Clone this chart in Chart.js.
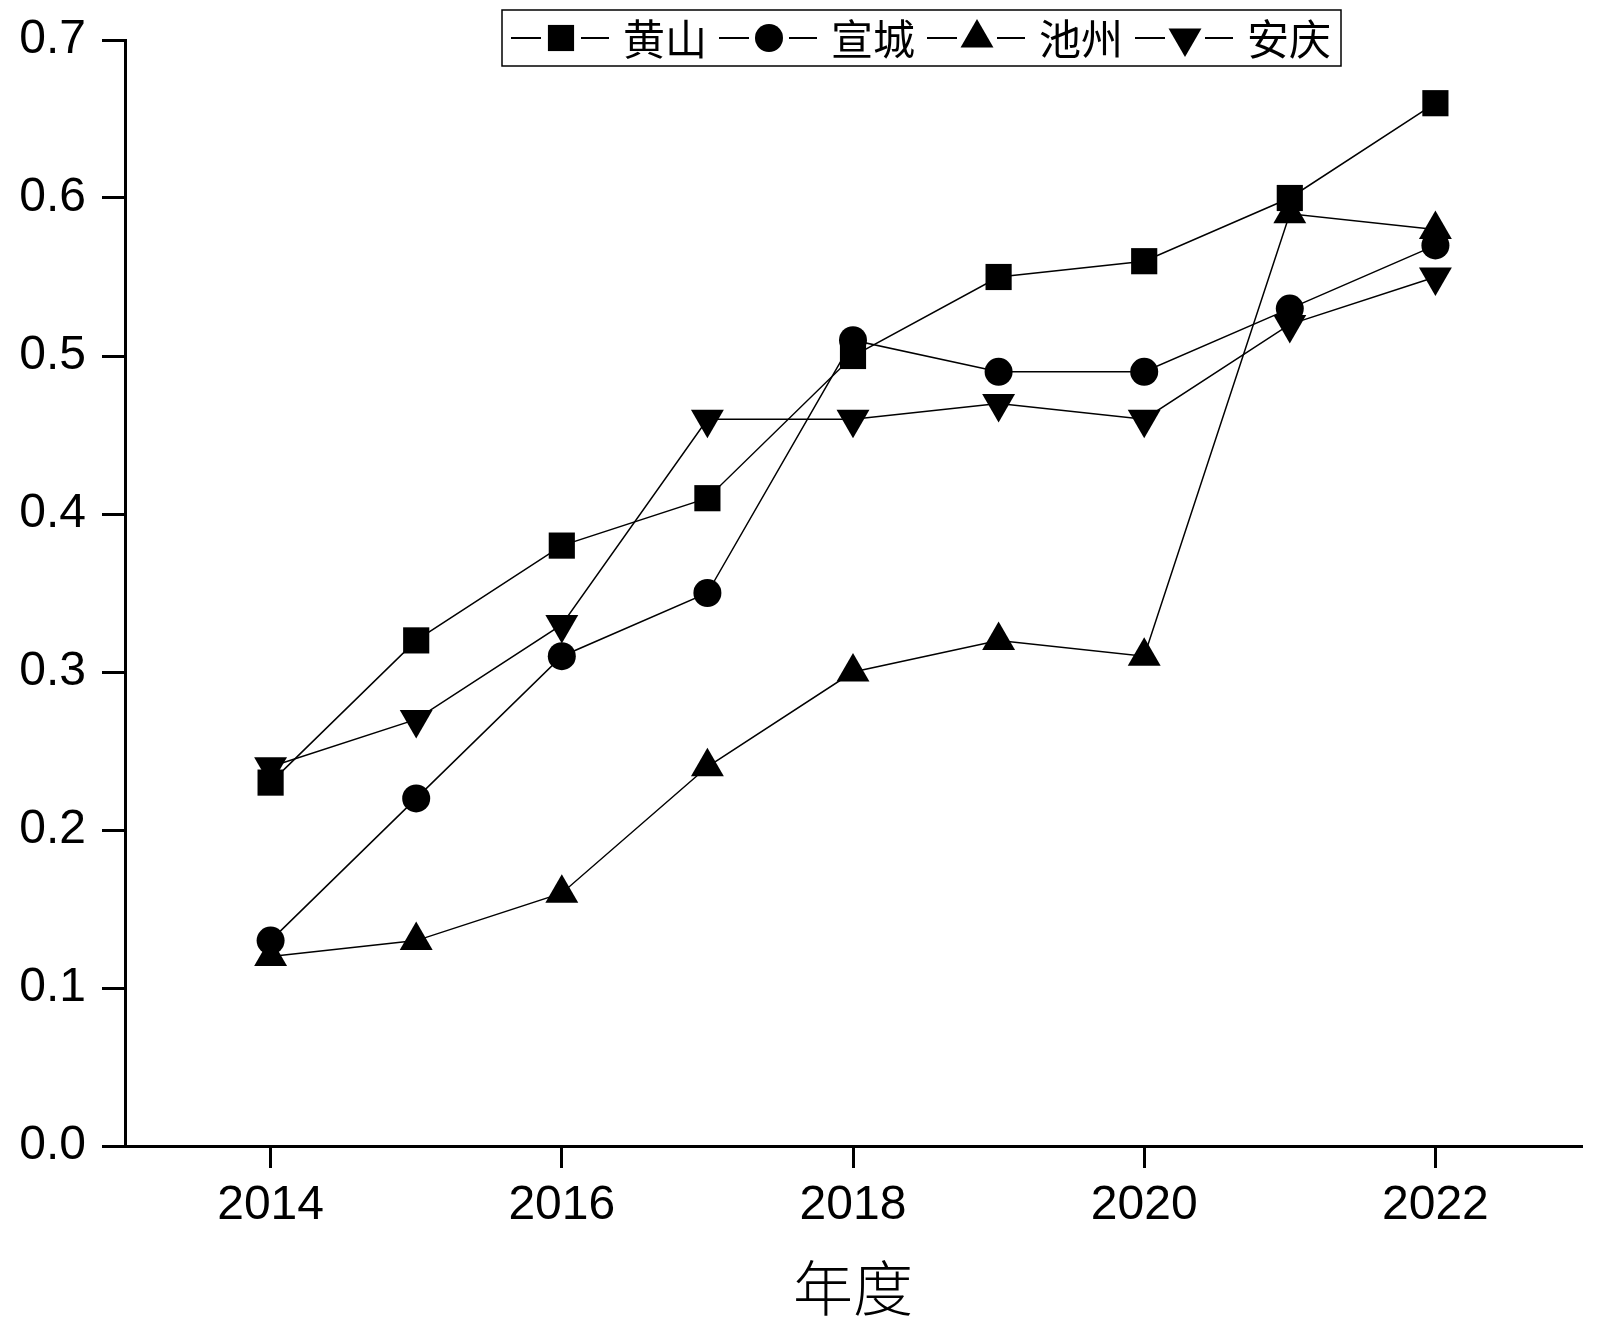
<!DOCTYPE html>
<html>
<head>
<meta charset="utf-8">
<script src="https://cdn.jsdelivr.net/npm/chart.js@4/dist/chart.umd.min.js"></script>
<style>
  body { margin: 0; background: #fff; }
  #wrap { width: 1600px; height: 1323px; }
</style>
</head>
<body>
<div id="wrap"><canvas id="lineChart"></canvas></div>
<script>
var years = [2014, 2015, 2016, 2017, 2018, 2019, 2020, 2021, 2022];
var xTicks = [2014, 2016, 2018, 2020, 2022];
var huangshan = [0.23, 0.32, 0.38, 0.41, 0.50, 0.55, 0.56, 0.60, 0.66];
var xuancheng = [0.13, 0.22, 0.31, 0.35, 0.51, 0.49, 0.49, 0.53, 0.57];
var chizhou   = [0.12, 0.13, 0.16, 0.24, 0.30, 0.32, 0.31, 0.59, 0.58];
var anqing    = [0.24, 0.27, 0.33, 0.46, 0.46, 0.47, 0.46, 0.52, 0.55];

function toPoints(vals){
    return vals.map(function(v, i){ return {x: years[i], y: v}; });
}

function makeSet(label, vals, style, radius, rot){
    return {
        label: label,
        data: toPoints(vals),
        borderColor: '#000',
        backgroundColor: '#000',
        borderWidth: 1.5,
        pointStyle: style,
        pointRadius: radius,
        pointHoverRadius: radius,
        pointRotation: rot,
        pointBorderWidth: 0,
        pointBackgroundColor: '#000',
        tension: 0,
        clip: false
    };
}

// legend drawn like the original: —■— 黄山 —●— 宣城 ...
var boxLegend = {
    id: 'boxLegend',
    afterDraw: function(chart){
        var ctx = chart.ctx;
        var left = 502, top = 10, right = 1341, bottom = 66;
        var cy = (top + bottom) / 2;
        ctx.save();
        ctx.strokeStyle = '#000';
        ctx.lineWidth = 1.5;
        ctx.strokeRect(left, top, right - left, bottom - top);
        chart.data.datasets.forEach(function(ds, i){
            var mx = left + 59 + i * 208;
            ctx.strokeStyle = '#000';
            ctx.lineWidth = 2;
            ctx.beginPath();
            ctx.moveTo(mx - 50, cy); ctx.lineTo(mx - 20, cy);
            ctx.moveTo(mx + 20, cy); ctx.lineTo(mx + 48, cy);
            ctx.stroke();
            Chart.helpers.drawPoint(ctx, {
                pointStyle: ds.pointStyle,
                radius: ds.pointRadius,
                rotation: ds.pointRotation,
                borderWidth: 0
            }, mx, cy);
            ctx.fillStyle = '#000';
            ctx.font = '400 42px "Noto Sans CJK SC"';
            ctx.textBaseline = 'middle';
            ctx.textAlign = 'left';
            ctx.fillText(ds.label, mx + 62, cy + 1);
        });
        ctx.restore();
    }
};

var ctx = document.getElementById('lineChart').getContext('2d');
var graph = new Chart(ctx, {
    type: 'line',
    data: {
        datasets: [
            makeSet('黄山', huangshan, 'rect', 18.5, 0),
            makeSet('宣城', xuancheng, 'circle', 14, 0),
            makeSet('池州', chizhou, 'triangle', 19, 0),
            makeSet('安庆', anqing, 'triangle', 19, 180)
        ]
    },
    options: {
        responsive: true,
        maintainAspectRatio: false,
        animation: false,
        layout: {
            padding: { top: 40, right: 16, left: 0, bottom: 0 }
        },
        plugins: {
            legend: { display: false },
            tooltip: { enabled: false }
        },
        scales: {
            x: {
                type: 'linear',
                min: 2013,
                max: 2023,
                afterBuildTicks: function(scale){
                    scale.ticks = xTicks.map(function(v){ return {value: v}; });
                },
                afterFit: function(scale){
                    scale.height = 177;
                    scale.paddingLeft = 0;
                    scale.paddingRight = 0;
                },
                border: { display: true, color: '#000', width: 3 },
                grid: {
                    drawOnChartArea: false,
                    drawTicks: true,
                    tickLength: 22,
                    color: '#000',
                    lineWidth: 3
                },
                ticks: {
                    color: '#000',
                    padding: 9,
                    maxRotation: 0,
                    font: { family: '"Liberation Sans", Arial', size: 48 },
                    callback: function(v){ return String(v); }
                },
                title: {
                    display: true,
                    text: '年度',
                    color: '#000',
                    padding: { top: 0, bottom: 5 },
                    font: { family: '"Noto Sans CJK SC"', size: 60, weight: '300', lineHeight: 1 }
                }
            },
            y: {
                min: 0,
                max: 0.7,
                afterFit: function(scale){
                    scale.width = 125;
                    scale.paddingTop = 0;
                    scale.paddingBottom = 0;
                },
                border: { display: true, color: '#000', width: 3 },
                grid: {
                    drawOnChartArea: false,
                    drawTicks: true,
                    tickLength: 23,
                    color: '#000',
                    lineWidth: 3
                },
                ticks: {
                    stepSize: 0.1,
                    color: '#000',
                    padding: 16,
                    font: { family: '"Liberation Sans", Arial', size: 48 },
                    callback: function(v){ return Number(v).toFixed(1); }
                }
            }
        }
    },
    plugins: [boxLegend]
});
</script>
</body>
</html>
